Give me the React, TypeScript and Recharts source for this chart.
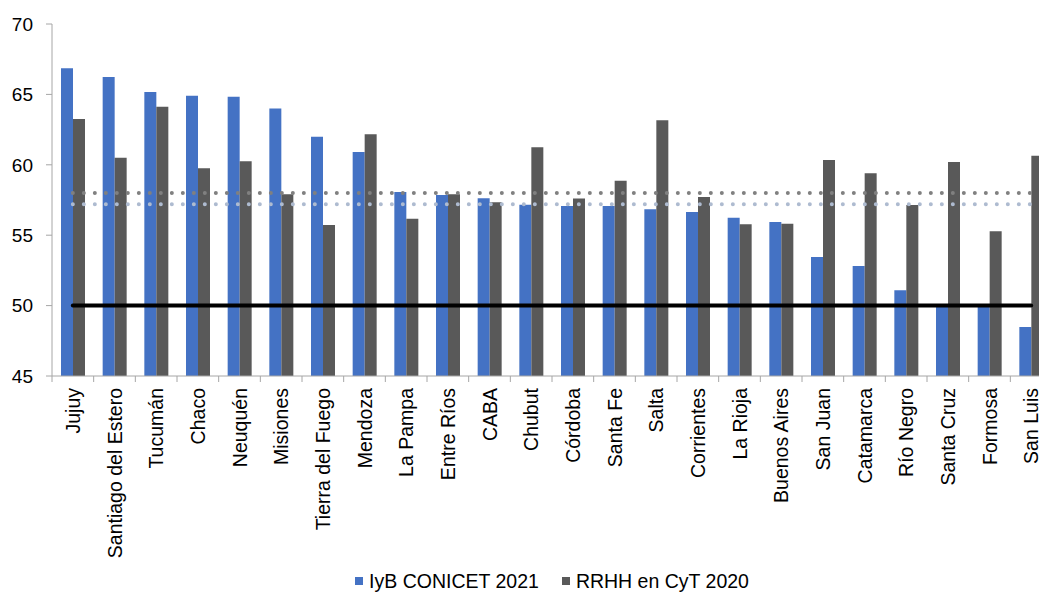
import React from 'react';
import {
  ComposedChart,
  Bar,
  XAxis,
  YAxis,
  Legend,
  ReferenceLine,
} from 'recharts';

const provincias = [
  'Jujuy', 'Santiago del Estero', 'Tucumán', 'Chaco', 'Neuquén', 'Misiones',
  'Tierra del Fuego', 'Mendoza', 'La Pampa', 'Entre Ríos', 'CABA', 'Chubut',
  'Córdoba', 'Santa Fe', 'Salta', 'Corrientes', 'La Rioja', 'Buenos Aires',
  'San Juan', 'Catamarca', 'Río Negro', 'Santa Cruz', 'Formosa', 'San Luis',
];

const iybConicet2021 = [
  66.85, 66.24, 65.17, 64.91, 64.84, 63.99, 62.0, 60.91, 58.07, 57.86, 57.62, 57.17,
  57.07, 57.07, 56.84, 56.65, 56.24, 55.94, 53.45, 52.81, 51.09, 50.0, 50.0, 48.48,
];

const rrhhCyT2020 = [
  63.25, 60.5, 64.13, 59.75, 60.25, 57.9, 55.72, 62.17, 56.17, 57.9, 57.34, 61.24,
  57.6, 58.87, 63.16, 57.71, 55.77, 55.82, 60.34, 59.4, 57.14, 60.2, 55.28, 60.65,
];

const yTicks = [45, 50, 55, 60, 65, 70];

// horizontal reference levels
const umbral = 50;
const promedioGris = 58.0;
const promedioCeleste = 57.2;

const BLUE = '#4472C4';
const GRAY = '#595959';
const AXIS = '#a6a6a6';
const FONT = '"Liberation Sans", Arial, sans-serif';

const MARGIN_L = 8;
const Y_AXIS_W = 44;
const PLOT_W = 1000;
const MARGIN_R = 16;
const BAND = PLOT_W / provincias.length;

const data = provincias.map((name, i) => ({
  name,
  iyb: iybConicet2021[i],
  rrhh: rrhhCyT2020[i],
}));

// label at category centre, tick mark at the left edge of each category
function CategoryTick({ x, y, payload }: { x?: number; y?: number; payload?: { value: string } }) {
  const cx = x ?? 0;
  const cy = y ?? 0;
  const edge = cx - BAND / 2;
  return (
    <g>
      <line x1={edge} x2={edge} y1={cy - 12} y2={cy - 6} stroke={AXIS} />
      <text
        x={cx}
        y={cy}
        dy="0.36em"
        transform={`rotate(-90, ${cx}, ${cy})`}
        textAnchor="end"
        fill="#000"
        fontSize={19.5}
        fontFamily={FONT}
      >
        {payload?.value}
      </text>
    </g>
  );
}

function LegendContent() {
  const items = [
    { label: 'IyB CONICET 2021', color: BLUE },
    { label: 'RRHH en CyT 2020', color: GRAY },
  ];
  return (
    <div
      style={{
        display: 'flex',
        justifyContent: 'center',
        alignItems: 'center',
        height: 30,
        gap: 23,
        fontFamily: FONT,
        fontSize: 19.5,
        color: '#000',
      }}
    >
      {items.map((it) => (
        <div key={it.label} style={{ display: 'flex', alignItems: 'center' }}>
          <span style={{ width: 8, height: 8, background: it.color, marginRight: 6, display: 'inline-block' }} />
          <span>{it.label}</span>
        </div>
      ))}
    </div>
  );
}

export default function App() {
  const first = provincias[0];
  const last = provincias[provincias.length - 1];
  return (
    <div style={{ position: 'absolute', left: 0, top: 0, width: 1039, height: 596, overflow: 'hidden', background: '#fff' }}>
      <ComposedChart
        width={MARGIN_L + Y_AXIS_W + PLOT_W + MARGIN_R}
        height={596}
        data={data}
        margin={{ top: 24, right: MARGIN_R, left: MARGIN_L, bottom: 0 }}
        barGap={0}
      >
        <XAxis
          dataKey="name"
          interval={0}
          height={190}
          axisLine={{ stroke: AXIS }}
          tickLine={false}
          tickSize={0}
          tickMargin={12}
          tick={<CategoryTick />}
        />
        <YAxis
          domain={[45, 70]}
          ticks={yTicks}
          width={Y_AXIS_W}
          tickSize={6}
          tickMargin={13}
          axisLine={{ stroke: AXIS }}
          tickLine={{ stroke: AXIS }}
          tick={{ fill: '#000', fontSize: 19, fontFamily: FONT }}
        />
        <Legend
          verticalAlign="bottom"
          height={30}
          content={<LegendContent />}
          wrapperStyle={{ left: MARGIN_L + Y_AXIS_W, width: PLOT_W }}
        />
        <Bar dataKey="iyb" name="IyB CONICET 2021" fill={BLUE} barSize={12} isAnimationActive={false} />
        <Bar dataKey="rrhh" name="RRHH en CyT 2020" fill={GRAY} barSize={12} isAnimationActive={false} />
        <ReferenceLine
          segment={[{ x: first, y: promedioGris }, { x: last, y: promedioGris }]}
          stroke="#808080"
          strokeWidth={4}
          strokeLinecap="round"
          strokeDasharray="0 11"
        />
        <ReferenceLine
          segment={[{ x: first, y: promedioCeleste }, { x: last, y: promedioCeleste }]}
          stroke="#aebbd0"
          strokeWidth={4}
          strokeLinecap="round"
          strokeDasharray="0 11"
        />
        <ReferenceLine
          segment={[{ x: first, y: umbral }, { x: last, y: umbral }]}
          stroke="#000"
          strokeWidth={4}
          strokeLinecap="round"
        />
      </ComposedChart>
    </div>
  );
}
